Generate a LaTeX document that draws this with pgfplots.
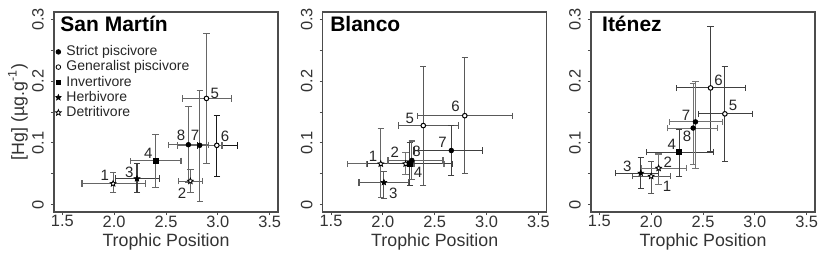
\documentclass[border=0pt]{standalone}
\usepackage{fontspec}
\setmainfont{Liberation Sans}
\usepackage{pgfplots}
\pgfplotsset{compat=1.18}

\pgfdeclareplotmark{fstar}{%
  \pgfpathmoveto{\pgfpointpolar{90}{\pgfplotmarksize}}%
  \pgfpathlineto{\pgfpointpolar{126}{0.45\pgfplotmarksize}}%
  \pgfpathlineto{\pgfpointpolar{162}{\pgfplotmarksize}}%
  \pgfpathlineto{\pgfpointpolar{198}{0.45\pgfplotmarksize}}%
  \pgfpathlineto{\pgfpointpolar{234}{\pgfplotmarksize}}%
  \pgfpathlineto{\pgfpointpolar{270}{0.45\pgfplotmarksize}}%
  \pgfpathlineto{\pgfpointpolar{306}{\pgfplotmarksize}}%
  \pgfpathlineto{\pgfpointpolar{342}{0.45\pgfplotmarksize}}%
  \pgfpathlineto{\pgfpointpolar{18}{\pgfplotmarksize}}%
  \pgfpathlineto{\pgfpointpolar{54}{0.45\pgfplotmarksize}}%
  \pgfpathclose
  \pgfusepathqfillstroke}
\pgfdeclareplotmark{ostar}{%
  \pgfpathmoveto{\pgfpointpolar{90}{\pgfplotmarksize}}%
  \pgfpathlineto{\pgfpointpolar{126}{0.45\pgfplotmarksize}}%
  \pgfpathlineto{\pgfpointpolar{162}{\pgfplotmarksize}}%
  \pgfpathlineto{\pgfpointpolar{198}{0.45\pgfplotmarksize}}%
  \pgfpathlineto{\pgfpointpolar{234}{\pgfplotmarksize}}%
  \pgfpathlineto{\pgfpointpolar{270}{0.45\pgfplotmarksize}}%
  \pgfpathlineto{\pgfpointpolar{306}{\pgfplotmarksize}}%
  \pgfpathlineto{\pgfpointpolar{342}{0.45\pgfplotmarksize}}%
  \pgfpathlineto{\pgfpointpolar{18}{\pgfplotmarksize}}%
  \pgfpathlineto{\pgfpointpolar{54}{0.45\pgfplotmarksize}}%
  \pgfpathclose
  \pgfusepathqfillstroke}

\tikzset{
  num/.style={font=\fontsize{7.5}{8}\selectfont, text=black!85, inner sep=0pt},
  ttl/.style={anchor=north west, inner sep=0pt, font=\bfseries\fontsize{10.5}{12}\selectfont},
}

\pgfplotsset{
  panel/.style={
    scale only axis, width=112pt, height=100pt,
    xmin=1.42, xmax=3.58, ymin=-0.012, ymax=0.312,
    xtick={1.5,2,2.5,3,3.5}, ytick={0,0.1,0.2,0.3}, minor ytick={0.05,0.15,0.25},
    xtick pos=lower, ytick pos=left, tick align=outside,
    major tick length=1.6pt, minor tick length=1.6pt,
    axis line style={black!70, line width=0.6pt},
    every tick/.style={black!70, line width=0.5pt},
    every minor tick/.style={black!70, line width=0.5pt},
    /pgf/number format/assume math mode=true,
    xticklabel style={font=\fontsize{8.2}{9}\selectfont, text=black!80, yshift=3.3pt,
      /pgf/number format/fixed, /pgf/number format/fixed zerofill, /pgf/number format/precision=1},
    yticklabel style={font=\fontsize{8.2}{9}\selectfont, text=black!80, rotate=90, anchor=south,
      /pgf/number format/fixed, /pgf/number format/precision=1},
    xlabel={Trophic Position},
    xlabel style={font=\fontsize{8.9}{10}\selectfont, text=black!80, at={(axis description cs:0.5,-0.15)}, anchor=center},
  },
  sp/.style={only marks, mark=*, mark size=1.15pt, black, mark options={fill=black, draw=black}, forget plot},
  gp/.style={only marks, mark=*, mark size=1.15pt, black, mark options={fill=white, draw=black, line width=0.5pt}, forget plot},
  inv/.style={only marks, mark=square*, mark size=1.15pt, black, mark options={fill=black, draw=black}, forget plot},
  hb/.style={only marks, mark=fstar, mark size=1.5pt, black, mark options={fill=black, draw=black, line width=0.3pt}, forget plot},
  dt/.style={only marks, mark=ostar, mark size=1.5pt, black, mark options={fill=white, draw=black, line width=0.4pt}, forget plot},
  eb/.style={error bars/.cd, x dir=both, x explicit, y dir=both, y explicit,
    error bar style={#1, line width=0.55pt},
    error mark options={rotate=90, #1, line width=0.55pt, mark size=1.6pt}},
}

\begin{document}
\begin{tikzpicture}
% ---------------- San Martin ----------------
\begin{axis}[panel, at={(0pt,0pt)},
  ylabel={[Hg] (µg.g\textsuperscript{-1})},
  ylabel style={font=\fontsize{8.9}{10}\selectfont, text=black!80, at={(axis description cs:-0.161,0.5)}, anchor=center},
  legend style={at={(axis description cs:0.005,0.835)}, anchor=north west, draw=none, fill=none,
    font=\fontsize{7}{8}\selectfont, row sep=1.1pt, column sep=2.6pt, inner sep=0pt,
    nodes={inner sep=0pt, text height=5.1pt, text depth=1.4pt, text=black!85}},
  legend cell align=left,
  legend image code/.code={\draw[#1] plot coordinates {(0pt,0pt)};},
]
\addlegendimage{only marks, mark=*, mark size=1.15pt, black}
\addlegendentry{Strict piscivore}
\addlegendimage{only marks, mark=*, mark size=1.15pt, black, mark options={fill=white}}
\addlegendentry{Generalist piscivore}
\addlegendimage{only marks, mark=square*, mark size=1.15pt, black}
\addlegendentry{Invertivore}
\addlegendimage{only marks, mark=fstar, mark size=1.5pt, black, mark options={line width=0.3pt}}
\addlegendentry{Herbivore}
\addlegendimage{only marks, mark=ostar, mark size=1.5pt, black, mark options={fill=white, line width=0.4pt}}
\addlegendentry{Detritivore}

\addplot[dt, eb=black!60]  coordinates {(1.99,0.034) += (0.31,0.018) -= (0.30,0.015)};
\addplot[dt, eb=black!60]  coordinates {(2.735,0.038) += (0.12,0.019) -= (0.115,0.019)};
\addplot[hb, eb=black!75]  coordinates {(2.22,0.042) += (0.22,0.024) -= (0.21,0.023)};
\addplot[inv, eb=black!60] coordinates {(2.40,0.071) += (0.245,0.043) -= (0.24,0.043)};
\addplot[gp, eb=black!60]  coordinates {(2.89,0.172) += (0.24,0.105) -= (0.23,0.105)};
\addplot[gp, eb=black!90]  coordinates {(2.99,0.096) += (0.20,0.049) -= (0.19,0.050)};
\addplot[sp, eb=black!60]  coordinates {(2.825,0.096) += (0.215,0.089) -= (0.215,0.091)};
\addplot[sp, eb=black!60]  coordinates {(2.716,0.097) += (0.19,0.062) -= (0.19,0.061)};

\node[num] at (axis cs:1.91,0.048) {1};
\node[num] at (axis cs:2.655,0.019) {2};
\node[num] at (axis cs:2.145,0.052) {3};
\node[num] at (axis cs:2.33,0.083) {4};
\node[num] at (axis cs:2.97,0.180) {5};
\node[num] at (axis cs:3.07,0.110) {6};
\node[num] at (axis cs:2.78,0.113) {7};
\node[num] at (axis cs:2.645,0.113) {8};
\node[ttl] at (axis description cs:0.027,0.982) {San Martín};
\end{axis}

% ---------------- Blanco ----------------
\begin{axis}[panel, at={(134.35pt,0pt)}]
\addplot[dt, eb=black!60]  coordinates {(1.98,0.066) += (0.32,0.058) -= (0.32,0.055)};
\addplot[dt, eb=black!55]  coordinates {(2.22,0.066) += (0.37,0.019) -= (0.38,0.017)};
\addplot[hb, eb=black!65]  coordinates {(2.01,0.036) += (0.24,0.017) -= (0.24,0.026)};
\addplot[inv, eb=black!75] coordinates {(2.26,0.066) += (0.41,0.034) -= (0.41,0.035)};
\addplot[gp, eb=black!65]  coordinates {(2.39,0.128) += (0.34,0.095) -= (0.24,0.097)};
\addplot[gp, eb=black!65]  coordinates {(2.79,0.144) += (0.46,0.095) -= (0.46,0.093)};
\addplot[sp, eb=black!75]  coordinates {(2.66,0.0876) += (0.30,0.040) -= (0.36,0.040)};
\addplot[sp, eb=black!60]  coordinates {(2.28,0.0715) += (0.30,0.0315) -= (0.23,0.0305)};

\node[num] at (axis cs:1.905,0.0785) {1};
\node[num] at (axis cs:2.115,0.084) {2};
\node[num] at (axis cs:2.10,0.018) {3};
\node[num] at (axis cs:2.34,0.052) {4};
\node[num] at (axis cs:2.26,0.140) {5};
\node[num] at (axis cs:2.70,0.159) {6};
\node[num] at (axis cs:2.575,0.101) {7};
\node[num] at (axis cs:2.325,0.0865) {8};
\node[ttl] at (axis description cs:0.032,0.982) {Blanco};
\end{axis}

% ---------------- Itenez ----------------
\begin{axis}[panel, at={(268.5pt,0pt)}]
\addplot[dt, eb=black!65]  coordinates {(2.00,0.046) += (0.185,0.0235) -= (0.18,0.028)};
\addplot[dt, eb=black!55]  coordinates {(2.072,0.059) += (0.265,0.023) -= (0.162,0.026)};
\addplot[hb, eb=black!75]  coordinates {(1.90,0.051) += (0.17,0.025) -= (0.24,0.025)};
\addplot[inv, eb=black!75] coordinates {(2.269,0.085) += (0.336,0.037) -= (0.316,0.039)};
\addplot[gp, eb=black!75]  coordinates {(2.711,0.147) += (0.266,0.077) -= (0.258,0.0775)};
\addplot[gp, eb=black!75]  coordinates {(2.573,0.189) += (0.337,0.100) -= (0.33,0.1025)};
\addplot[sp, eb=black!55]  coordinates {(2.427,0.134) += (0.259,0.065) -= (0.252,0.075)};
\addplot[sp, eb=black!55]  coordinates {(2.405,0.124) += (0.238,0.072) -= (0.246,0.059)};

\node[num] at (axis cs:2.153,0.030) {1};
\node[num] at (axis cs:2.16,0.069) {2};
\node[num] at (axis cs:1.77,0.0625) {3};
\node[num] at (axis cs:2.20,0.097) {4};
\node[num] at (axis cs:2.79,0.160) {5};
\node[num] at (axis cs:2.65,0.201) {6};
\node[num] at (axis cs:2.337,0.145) {7};
\node[num] at (axis cs:2.346,0.110) {8};
\node[ttl] at (axis description cs:0.048,0.982) {Iténez};
\end{axis}

\pgfresetboundingbox
\path[use as bounding box] (-27pt,-25.5pt) rectangle (387pt,106pt);
\end{tikzpicture}
\end{document}
